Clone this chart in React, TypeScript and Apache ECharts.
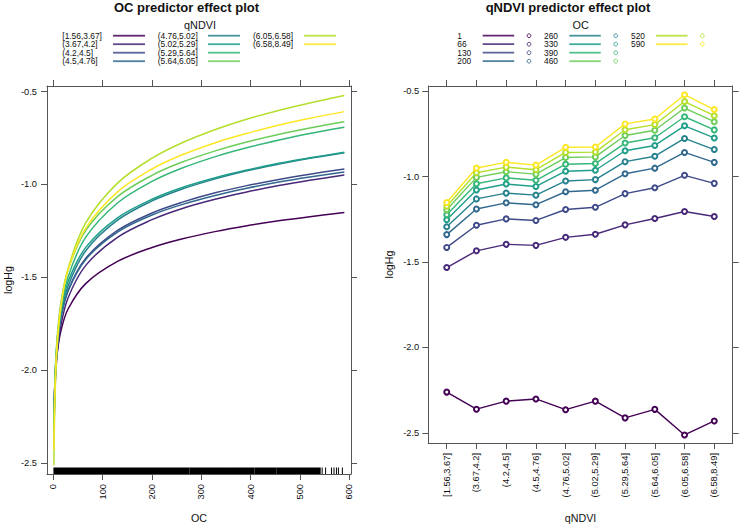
import React, { useEffect, useRef } from "react";
import * as echarts from "echarts";

// ---------- data ----------
const QNDVI_LEVELS = [
  "[1.56,3.67]", "(3.67,4.2]", "(4.2,4.5]", "(4.5,4.76]", "(4.76,5.02]",
  "(5.02,5.29]", "(5.29,5.64]", "(5.64,6.05]", "(6.05,6.58]", "(6.58,8.49]",
];
const OC_LEVELS = [1, 66, 130, 200, 260, 330, 390, 460, 520, 590];
const OC_POINTS = [1, 2, 4, 8, 15, 30, 66, 130, 200, 260, 330, 390, 460, 520, 590];
// logHg effect per qNDVI level (rows) at OC_POINTS (columns)
const LOGHG: number[][] = [
  [-2.262, -2.141, -2.021, -1.900, -1.791, -1.670, -1.533, -1.415, -1.340, -1.294, -1.253, -1.224, -1.195, -1.174, -1.152],
  [-2.362, -2.209, -2.055, -1.902, -1.763, -1.609, -1.435, -1.285, -1.190, -1.131, -1.079, -1.042, -1.005, -0.978, -0.950],
  [-2.315, -2.163, -2.011, -1.860, -1.722, -1.570, -1.397, -1.248, -1.154, -1.097, -1.044, -1.008, -0.972, -0.945, -0.917],
  [-2.302, -2.153, -2.005, -1.856, -1.721, -1.572, -1.403, -1.257, -1.165, -1.109, -1.058, -1.022, -0.986, -0.960, -0.933],
  [-2.365, -2.198, -2.031, -1.864, -1.713, -1.546, -1.356, -1.193, -1.089, -1.026, -0.969, -0.928, -0.889, -0.859, -0.829],
  [-2.315, -2.153, -1.992, -1.830, -1.684, -1.522, -1.338, -1.180, -1.080, -1.018, -0.963, -0.924, -0.885, -0.857, -0.827],
  [-2.413, -2.226, -2.039, -1.852, -1.683, -1.496, -1.283, -1.100, -0.984, -0.913, -0.849, -0.804, -0.760, -0.726, -0.692],
  [-2.363, -2.178, -1.994, -1.809, -1.641, -1.457, -1.246, -1.066, -0.951, -0.881, -0.818, -0.773, -0.729, -0.696, -0.663],
  [-2.513, -2.297, -2.080, -1.864, -1.668, -1.451, -1.205, -0.993, -0.859, -0.777, -0.703, -0.650, -0.599, -0.561, -0.521],
  [-2.431, -2.233, -2.035, -1.837, -1.657, -1.459, -1.234, -1.040, -0.917, -0.842, -0.774, -0.727, -0.679, -0.644, -0.608],
];
// rug of observed OC values: dense runs [from, to] and single marks
const RUG_RUNS: number[][] = [[1, 275], [277, 351], [353, 407], [409, 451], [453, 541]];
const RUG_MARKS = [545, 552, 564, 569, 574, 578, 586];

const OC_TICKS = [0, 100, 200, 300, 400, 500, 600];
const LOGHG_TICKS = [-2.5, -2.0, -1.5, -1.0, -0.5];
const CAT_POS = [1, 2, 3, 4, 5, 6, 7, 8, 9, 10];

const VIRIDIS = ["#440154", "#482878", "#3E4A89", "#31688E", "#26828E", "#1F9E89", "#35B779", "#6DCD59", "#B4DE2C", "#FDE725"];

// ---------- style constants ----------
const FONT = "'Liberation Sans', Arial, Helvetica, sans-serif";
const FRAME = "#555";
const TXT = "#111";
const Y_MIN = -2.56;
const Y_MAX = -0.47;

export default function App() {
  const ref = useRef<HTMLDivElement>(null);

  useEffect(() => {
    if (!ref.current) return;
    const chart = echarts.init(ref.current, undefined, { renderer: "svg" });

    const tickStyle = { show: true, inside: false, length: 6, lineStyle: { color: FRAME, width: 1 } };
    const lineStyleAxis = { show: true, onZero: false, lineStyle: { color: FRAME, width: 1 } };
    const labelBase = { color: TXT, fontFamily: FONT, fontSize: 9.3 };
    const nameBase = { color: TXT, fontFamily: FONT, fontSize: 10.7 };

    const grids = [
      { left: 47, top: 86, width: 304, height: 392 },
      { left: 428.3, top: 86, width: 304.4, height: 361.7 },
    ];

    const xAxis: any[] = [
      {
        gridIndex: 0, type: "value", position: "bottom", min: -13, max: 603.5,
        axisLine: lineStyleAxis, splitLine: { show: false },
        axisTick: { ...tickStyle, customValues: OC_TICKS },
        axisLabel: { ...labelBase, rotate: 90, margin: 10, customValues: OC_TICKS },
        name: "OC", nameLocation: "middle", nameGap: 38, nameTextStyle: nameBase,
      },
      {
        gridIndex: 0, type: "value", position: "top", min: -13, max: 603.5,
        axisLine: lineStyleAxis, splitLine: { show: false },
        axisTick: { ...tickStyle, customValues: OC_TICKS },
        axisLabel: { show: false },
      },
      {
        gridIndex: 1, type: "value", position: "bottom", min: 0.38, max: 10.62,
        axisLine: lineStyleAxis, splitLine: { show: false },
        axisTick: { ...tickStyle, customValues: CAT_POS },
        axisLabel: {
          ...labelBase, rotate: 90, margin: 10, customValues: CAT_POS,
          formatter: (v: number) => QNDVI_LEVELS[Math.round(v) - 1] ?? "",
        },
        name: "qNDVI", nameLocation: "middle", nameGap: 69, nameTextStyle: nameBase,
      },
      {
        gridIndex: 1, type: "value", position: "top", min: 0.38, max: 10.62,
        axisLine: lineStyleAxis, splitLine: { show: false },
        axisTick: { ...tickStyle, customValues: CAT_POS },
        axisLabel: { show: false },
      },
    ];

    const fmtY = (v: number) => v.toFixed(1);
    const yAxis: any[] = [
      {
        gridIndex: 0, type: "value", position: "left", min: Y_MIN, max: Y_MAX,
        axisLine: lineStyleAxis, splitLine: { show: false },
        axisTick: { ...tickStyle, customValues: LOGHG_TICKS },
        axisLabel: { ...labelBase, margin: 10, customValues: LOGHG_TICKS, formatter: fmtY },
        name: "logHg", nameLocation: "middle", nameGap: 34, nameTextStyle: nameBase,
      },
      {
        gridIndex: 0, type: "value", position: "right", min: Y_MIN, max: Y_MAX,
        axisLine: lineStyleAxis, splitLine: { show: false },
        axisTick: { ...tickStyle, customValues: LOGHG_TICKS },
        axisLabel: { show: false },
      },
      {
        gridIndex: 1, type: "value", position: "left", min: Y_MIN, max: Y_MAX,
        axisLine: lineStyleAxis, splitLine: { show: false },
        axisTick: { ...tickStyle, customValues: LOGHG_TICKS },
        axisLabel: { ...labelBase, margin: 9, customValues: LOGHG_TICKS, formatter: fmtY },
        name: "logHg", nameLocation: "middle", nameGap: 34, nameTextStyle: nameBase,
      },
      {
        gridIndex: 1, type: "value", position: "right", min: Y_MIN, max: Y_MAX,
        axisLine: lineStyleAxis, splitLine: { show: false },
        axisTick: { ...tickStyle, customValues: LOGHG_TICKS },
        axisLabel: { show: false },
      },
    ];

    const series: any[] = [];

    // rug
    const rugData = [
      ...RUG_RUNS.map((r) => [r[0], r[1]]),
      ...RUG_MARKS.map((m) => [m, m]),
    ];
    series.push({
      type: "custom",
      xAxisIndex: 0,
      yAxisIndex: 0,
      silent: true,
      clip: true,
      data: rugData,
      renderItem: (_p: any, api: any) => {
        const a = api.coord([api.value(0), Y_MIN]);
        const b = api.coord([api.value(1), Y_MIN]);
        return {
          type: "rect",
          shape: { x: a[0] - 0.5, y: a[1] - 6.5, width: Math.max(1, b[0] - a[0] + 1), height: 6.5 },
          style: { fill: "#000" },
        };
      },
    });

    // left panel curves
    QNDVI_LEVELS.forEach((lvl, j) => {
      series.push({
        type: "line",
        name: lvl,
        xAxisIndex: 0,
        yAxisIndex: 0,
        data: OC_POINTS.map((oc, i) => [oc, LOGHG[j][i]]),
        showSymbol: false,
        smooth: 0.35,
        lineStyle: { color: VIRIDIS[j], width: 1.5 },
        itemStyle: { color: VIRIDIS[j] },
        z: 3,
      });
    });

    // right panel lines by OC level
    OC_LEVELS.forEach((oc, k) => {
      const col = OC_POINTS.indexOf(oc);
      series.push({
        type: "line",
        name: String(oc),
        xAxisIndex: 2,
        yAxisIndex: 2,
        data: QNDVI_LEVELS.map((_, j) => [CAT_POS[j], LOGHG[j][col]]),
        symbol: "emptyCircle",
        symbolSize: 5,
        showSymbol: true,
        lineStyle: { color: VIRIDIS[k], width: 1.4 },
        itemStyle: { color: VIRIDIS[k], borderColor: VIRIDIS[k], borderWidth: 1.1 },
        z: 3,
      });
    });

    // legends & titles as graphics
    const graphic: any[] = [];
    const txt = (x: number, y: number, text: string, size: number, align: string, bold = false) => ({
      type: "text",
      x, y,
      style: {
        text, fill: TXT, fontFamily: FONT, fontSize: size,
        fontWeight: bold ? "bold" : "normal",
        align, verticalAlign: "middle",
      },
    });

    graphic.push(txt(186.5, 7.5, "OC predictor effect plot", 13, "center", true));
    graphic.push(txt(568, 7.5, "qNDVI predictor effect plot", 13, "center", true));
    graphic.push(txt(200, 24.5, "qNDVI", 10.8, "center"));
    graphic.push(txt(580.7, 24.5, "OC", 10.8, "center"));

    const rowY = [35.7, 44.2, 52.7, 61.2];
    const lColText = [62.3, 157.7, 253];
    const lColLine = [113, 208, 304];
    QNDVI_LEVELS.forEach((lvl, j) => {
      const c = Math.floor(j / 4);
      const r = j % 4;
      graphic.push(txt(lColText[c], rowY[r], lvl, 8.4, "left"));
      graphic.push({
        type: "line",
        shape: { x1: lColLine[c], y1: rowY[r], x2: lColLine[c] + 32, y2: rowY[r] },
        style: { stroke: VIRIDIS[j], lineWidth: 1.8, opacity: 0.85 },
      });
    });

    const rColText = [457.3, 544, 631];
    const rColLine = [482.7, 569.3, 656];
    const rColDot = [529, 615.7, 702.3];
    OC_LEVELS.forEach((oc, k) => {
      const c = Math.floor(k / 4);
      const r = k % 4;
      graphic.push(txt(rColText[c], rowY[r], String(oc), 8.4, "left"));
      graphic.push({
        type: "line",
        shape: { x1: rColLine[c], y1: rowY[r], x2: rColLine[c] + 31.5, y2: rowY[r] },
        style: { stroke: VIRIDIS[k], lineWidth: 1.8, opacity: 0.85 },
      });
      graphic.push({
        type: "circle",
        shape: { cx: rColDot[c], cy: rowY[r], r: 1.9 },
        style: { fill: "none", stroke: VIRIDIS[k], lineWidth: 1, opacity: 0.85 },
      });
    });

    chart.setOption({
      animation: false,
      backgroundColor: "#fff",
      textStyle: { fontFamily: FONT },
      grid: grids,
      xAxis,
      yAxis,
      series,
      graphic,
    });

    return () => chart.dispose();
  }, []);

  return (
    <div
      ref={ref}
      style={{ position: "absolute", left: 0, top: 0, width: 740, height: 528 }}
    />
  );
}
